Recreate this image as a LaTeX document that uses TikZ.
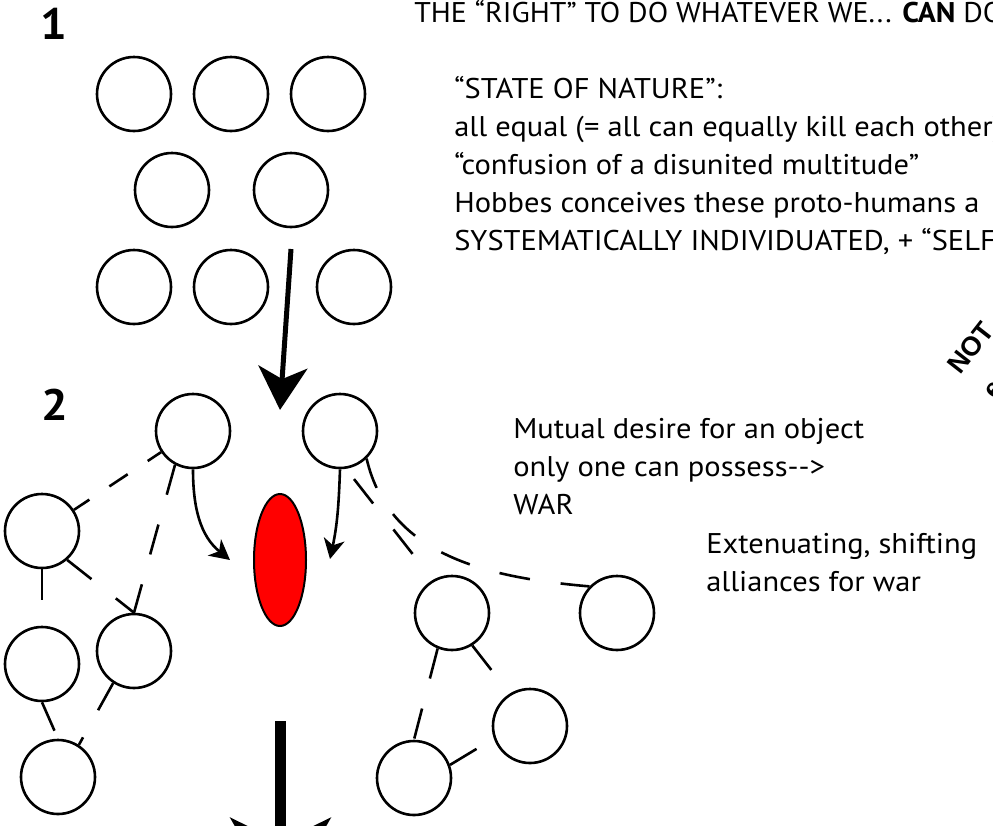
\documentclass[tikz,border=0pt]{standalone}
\usepackage{fontspec}
\setmainfont{PT Sans}[FakeStretch=1.07]
\newfontfamily\notefont{Liberation Sans}
\usetikzlibrary{arrows.meta,shapes.geometric,positioning}

\begin{document}
\begin{tikzpicture}[x=1pt,y=1pt,>={Stealth[length=20pt,width=21pt,inset=6pt]},
    line width=2.6pt,node distance=97pt,
    man node/.style={circle,draw,minimum size=74pt,inner sep=0pt},
    prize node/.style={ellipse,draw,fill=red,line width=2pt,minimum width=52pt,minimum height=132pt,inner sep=0pt},
    tie edge/.style={dash pattern=on 31pt off 31pt},
    note/.style={align=left,anchor=base west,inner sep=0pt,font=\fontsize{28.5}{38}\selectfont},
    stage/.style={anchor=base,inner sep=0pt,font=\fontsize{44}{44}\selectfont\bfseries},
    tilted/.style={rotate=52,anchor=base west,inner sep=0pt,font=\notefont\bfseries\fontsize{27}{27}\selectfont}]

  \clip (0,0) rectangle (993,-825);

  \node[stage] (one) at (53.5,-39) {1};
  \node[man node] (s1) at (134,-94) {};
  \node[man node] (s2) [right of=s1] {};
  \node[man node] (s3) [right of=s2] {};
  \node[man node] (m1) at (172,-190) {};
  \node[man node] (m2) at (291,-190) {};
  \node[man node] (t1) at (134,-287) {};
  \node[man node] (t2) [right of=t1] {};
  \node[man node] (t3) at (354,-287) {};

  \node[stage] (two) at (55,-420) {2};
  \node[man node] (a) at (193,-431) {};
  \node[man node] (b) at (340,-431) {};
  \node[prize node] (prize) at (280,-560) {};
  \node[man node] (c) at (42,-531) {};
  \node[man node] (d) at (134,-651) {};
  \node[man node] (e) at (42,-664) {};
  \node[man node] (f) at (58,-777) {};
  \node[man node] (g) at (452,-613) {};
  \node[man node] (h) at (617,-613) {};
  \node[man node] (i) at (530,-726) {};
  \node[man node] (j) at (414,-778) {};

  \coordinate (fall top) at (291,-249);
  \coordinate (fall tip) at (280,-410);
  \coordinate (grab a) at (230,-560);
  \coordinate (grab b) at (330,-559);
  \coordinate (sink top) at (280.5,-721);
  \coordinate (sink tip) at (280.5,-906);

  \draw[line width=5pt,-{Stealth[length=43pt,width=49pt,inset=12pt]}] (fall top) -- (fall tip);
  \draw[->] (a.south) to[out=-90,in=141] (grab a);
  \draw[->] (b.south) to[out=-92,in=78] (grab b);
  \draw[line width=11pt,-{Stealth[length=88pt,width=100pt,inset=24pt]}] (sink top) -- (sink tip);

  \path[tie edge]
        (a) edge [dash pattern=on 22pt off 24pt,dash phase=6pt] (c)
        (a.242) edge (d.north)
        (c.311) edge (d.north)
        (c.south) edge (e.north)
        (e.south) edge (f.north)
        (d.237) edge (f.57)
        (b.279) edge [dash pattern=on 31pt off 33pt,dash phase=51pt] (g.120)
        (b.314) edge [out=-77,in=175] (h.136)
        (g.248) edge (j.north)
        (g.302) edge (i.122)
        (j.20) edge (i.199);

  \node[note,xscale=0.98,transform shape] (title) at (413,-22) {THE “RIGHT” TO DO WHATEVER WE... \textbf{CAN} DO};
  \node[note] (nature) at (453,-250) {“STATE OF NATURE”:\\all equal (= all can equally kill each other)\\“confusion of a disunited multitude”\\Hobbes conceives these proto-humans a\\SYSTEMATICALLY INDIVIDUATED, + “SELF};
  \node[note] (desire) at (512,-514) {Mutual desire for an object\\only one can possess-\kern0pt->\\WAR};
  \node[note] (alliance) at (705,-591) {Extenuating, shifting\\alliances for war};
  \node[tilted] (not a) at (960,-377) {NOT};
  \node[tilted] (not b) at (995,-402) {e};

\end{tikzpicture}
\end{document}
